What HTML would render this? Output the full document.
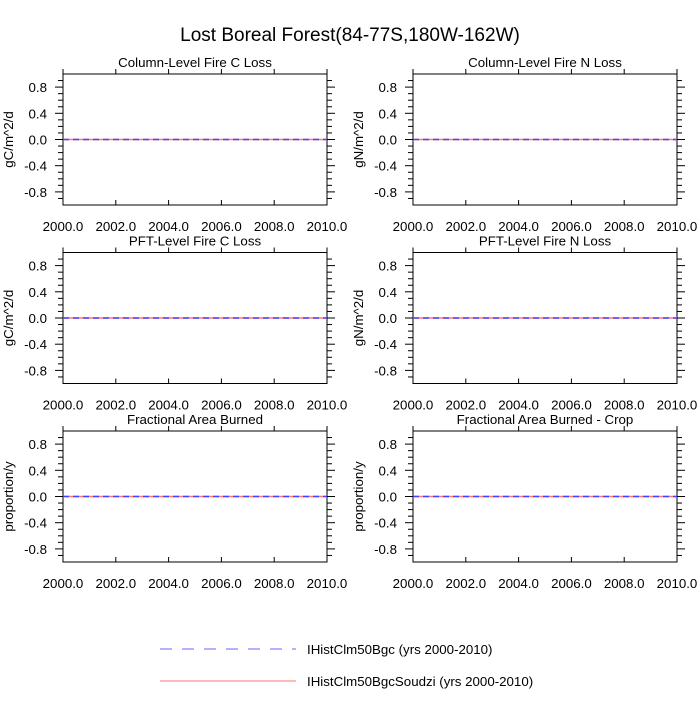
<!DOCTYPE html>
<html><head><meta charset="utf-8"><style>
body{margin:0;background:#fff}
svg{font-family:"Liberation Sans",sans-serif}
</style></head><body>
<svg id="c" width="700" height="700" xmlns="http://www.w3.org/2000/svg">
<text x="350" y="41" font-size="19" text-anchor="middle">Lost Boreal Forest(84-77S,180W-162W)</text>
<g id="panels"></g>
<g>
<line x1="160" y1="649" x2="296" y2="649" stroke="#6666ff" stroke-width="1" stroke-dasharray="12,10"/>
<text x="307" y="654" font-size="13.3">IHistClm50Bgc (yrs 2000-2010)</text>
<line x1="160" y1="681" x2="296" y2="681" stroke="#ff7777" stroke-width="1"/>
<text x="307" y="686" font-size="13.3">IHistClm50BgcSoudzi (yrs 2000-2010)</text>
</g>
</svg>
<script>
const titles=["Column-Level Fire C Loss","Column-Level Fire N Loss","PFT-Level Fire C Loss","PFT-Level Fire N Loss","Fractional Area Burned","Fractional Area Burned - Crop"];
const units=["gC/m^2/d","gN/m^2/d","gC/m^2/d","gN/m^2/d","proportion/y","proportion/y"];
const years=[2000,2001,2002,2003,2004,2005,2006,2007,2008,2009,2010];
const seriesBgc=[0,0,0,0,0,0,0,0,0,0,0];
const seriesSoudzi=[0,0,0,0,0,0,0,0,0,0,0];
const xTicks=[2000,2002,2004,2006,2008,2010];
const yTicks=[-0.8,-0.4,0.0,0.4,0.8];
const NS="http://www.w3.org/2000/svg";
const root=document.getElementById('panels');
function mk(tag,a,p){const e=document.createElementNS(NS,tag);for(const k in a)e.setAttribute(k,a[k]);p.appendChild(e);return e;}
titles.forEach((t,i)=>{
 const L=i%2?413:63, R=L+264, T=74+Math.floor(i/2)*178.5, B=T+131;
 const sx=v=>L+(v-2000)/10*(R-L);
 const sy=v=>B-(v+1)/2*(B-T);
 const g=mk('g',{},root);
 
 
 const fr=mk('rect',{x:L,y:T,width:R-L,height:B-T,fill:'none',stroke:'#000','stroke-width':1},g);
 
 
 const tt=mk('text',{x:(L+R)/2,y:T-7,'font-size':13.3,'text-anchor':'middle'},g);tt.textContent=t;
 
 
 const yl=mk('text',{transform:`translate(${L-50},${(T+B)/2}) rotate(-90)`,'font-size':13.3,'text-anchor':'middle'},g);yl.textContent=units[i];
 
 
 for(let k=-9;k<=9;k++){const v=k/10,y=sy(v),maj=(k%4===0);const len=maj?8:5;
  mk('line',{x1:L-len,y1:y,x2:L,y2:y,stroke:'#000'},g);
  mk('line',{x1:R,y1:y,x2:R+len,y2:y,stroke:'#000'},g);}
 yTicks.forEach(v=>{const e=mk('text',{x:L-16,y:sy(v)+5,'font-size':13.3,'text-anchor':'end'},g);e.textContent=v.toFixed(1);
  
  });
 xTicks.forEach(v=>{const x=sx(v);
  mk('line',{x1:x,y1:B-5,x2:x,y2:B,stroke:'#000'},g);
  mk('line',{x1:x,y1:T-5,x2:x,y2:T,stroke:'#000'},g);
  const e=mk('text',{x:x,y:B+26,'font-size':13.3,'text-anchor':'middle'},g);e.textContent=v.toFixed(1);
  
  });
 const p2=mk('polyline',{points:years.map((y,j)=>sx(y)+','+sy(seriesSoudzi[j])).join(' '),fill:'none',stroke:'#ff7777','stroke-width':1.5},g);
 
 
 const p1=mk('polyline',{points:years.map((y,j)=>sx(y)+','+sy(seriesBgc[j])).join(' '),fill:'none',stroke:'#4444ff','stroke-width':1.5,'stroke-dasharray':'6,4'},g);
 
 
});
</script>
</body></html>
